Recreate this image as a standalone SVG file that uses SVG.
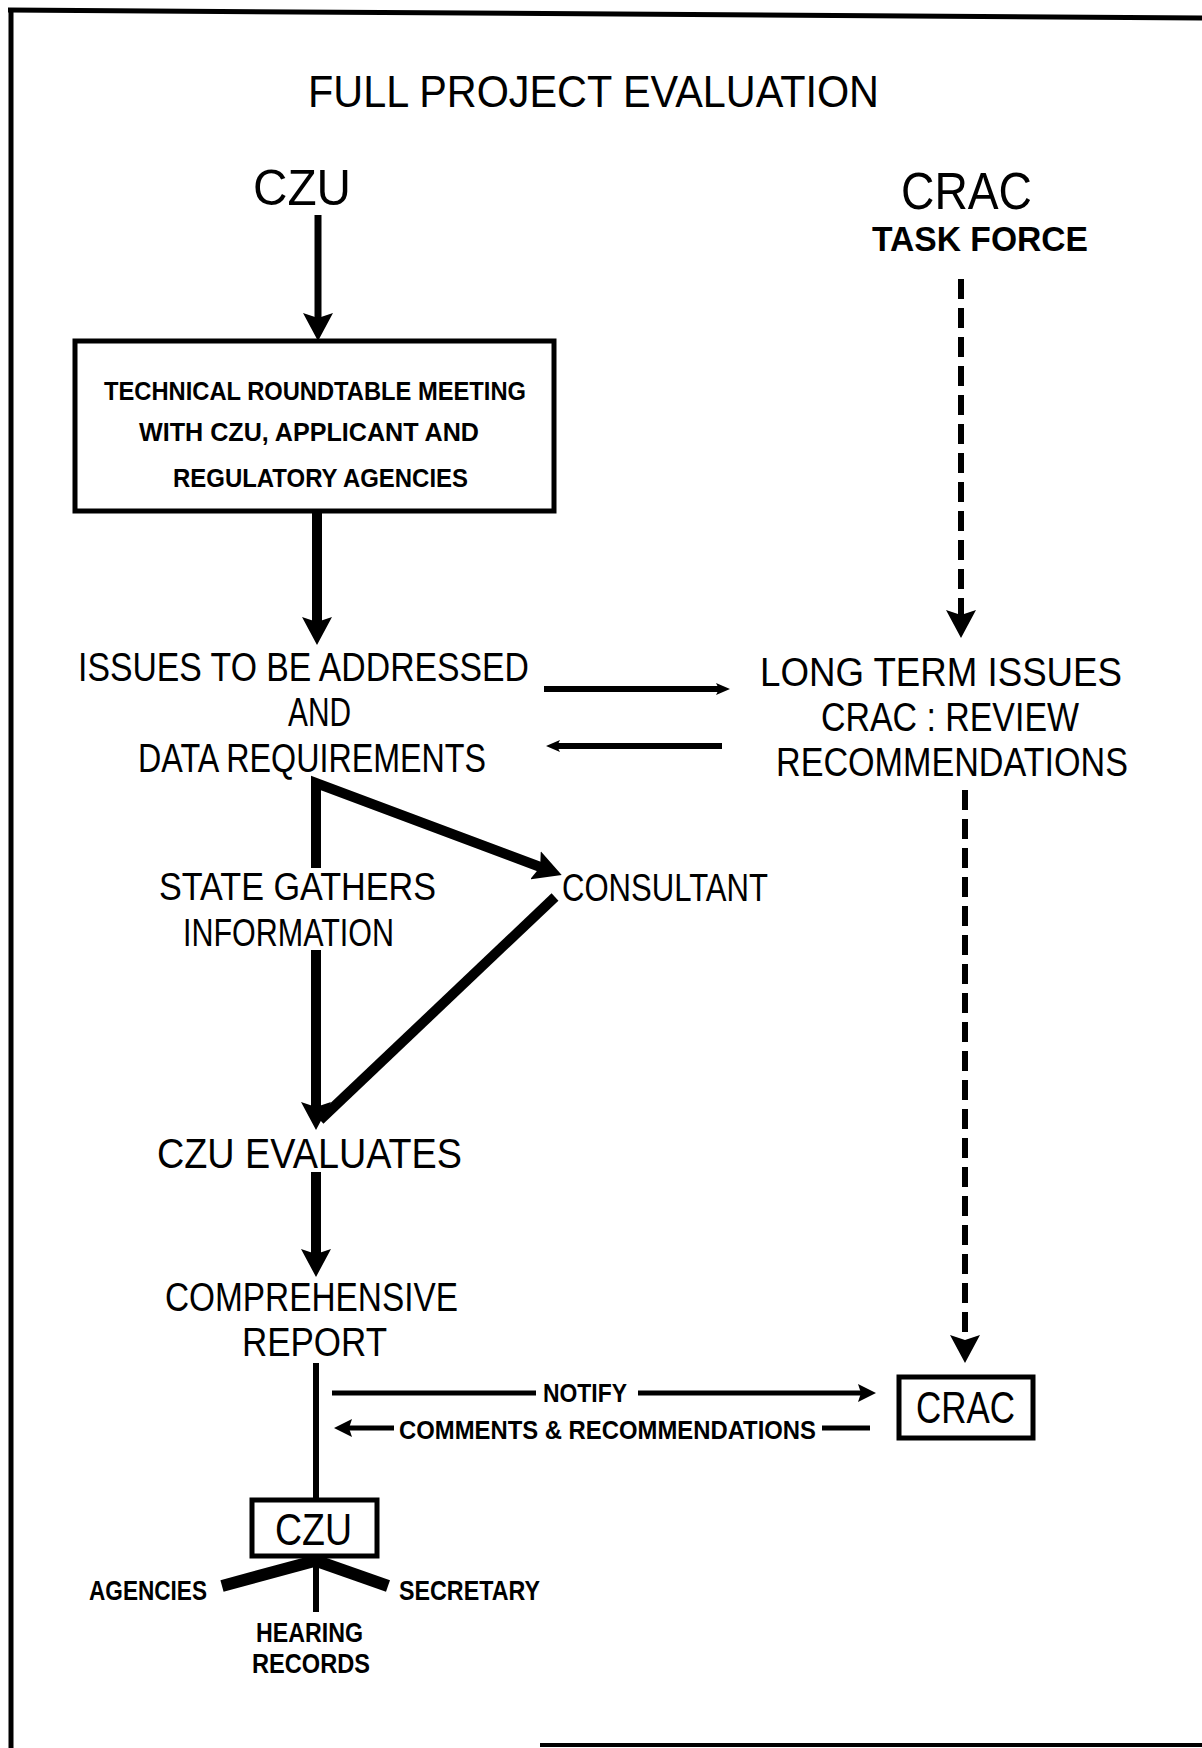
<svg xmlns="http://www.w3.org/2000/svg" width="1202" height="1748" viewBox="0 0 1202 1748">
<style>
.t{font-family:"Liberation Sans",Arial,sans-serif;fill:#000;}
.m{font-size:40px;}
.b{font-weight:bold;}
.box{fill:none;stroke:#000;stroke-width:5;}
.ln{stroke:#000;fill:none;stroke-linecap:butt;}
.dash{stroke:#000;fill:none;stroke-width:6;stroke-dasharray:20 9;}
</style>
<defs>
<marker id="big" markerUnits="userSpaceOnUse" viewBox="0 0 28 30" markerWidth="28" markerHeight="30" refX="8" refY="15" orient="auto"><path d="M0,0 L28,15 L0,30 L5,15 Z" fill="#000"/></marker>
<marker id="mid" markerUnits="userSpaceOnUse" viewBox="0 0 18 18" markerWidth="18" markerHeight="18" refX="6" refY="9" orient="auto"><path d="M0,0 L18,9 L0,18 L3,9 Z" fill="#000"/></marker>
<marker id="small" markerUnits="userSpaceOnUse" viewBox="0 0 14 14" markerWidth="14" markerHeight="14" refX="4" refY="7" orient="auto"><path d="M0,1 L14,7 L0,13 L3,7 Z" fill="#000"/></marker>
</defs>
<rect width="1202" height="1748" fill="#fff"/>
<g id="frame">
<line x1="11" y1="8" x2="11" y2="1748" class="ln" stroke-width="5"/>
<line x1="8" y1="10" x2="1202" y2="18" class="ln" stroke-width="5"/>
<line x1="540" y1="1745" x2="1202" y2="1745" class="ln" stroke-width="4"/>
</g>
<g id="title"><text class="t" x="308" y="107" font-size="44" textLength="571" lengthAdjust="spacingAndGlyphs">FULL PROJECT EVALUATION</text></g>
<g id="czu-top"><text class="t" x="253" y="205" font-size="50" textLength="98" lengthAdjust="spacingAndGlyphs">CZU</text></g>
<g id="crac-taskforce">
<text class="t" x="901" y="209" font-size="51" textLength="131" lengthAdjust="spacingAndGlyphs">CRAC</text>
<text class="t b" x="872" y="251" font-size="35" textLength="216" lengthAdjust="spacingAndGlyphs">TASK FORCE</text>
</g>
<g id="roundtable">
<rect class="box" x="75" y="341" width="479" height="170"/>
<text class="t b" x="104" y="400" font-size="26" textLength="422" lengthAdjust="spacingAndGlyphs">TECHNICAL ROUNDTABLE MEETING</text>
<text class="t b" x="139" y="441" font-size="26" textLength="340" lengthAdjust="spacingAndGlyphs">WITH CZU, APPLICANT AND</text>
<text class="t b" x="173" y="487" font-size="26" textLength="295" lengthAdjust="spacingAndGlyphs">REGULATORY AGENCIES</text>
</g>
<g id="issues">
<text class="t m" x="78" y="681" textLength="451" lengthAdjust="spacingAndGlyphs">ISSUES TO BE ADDRESSED</text>
<text class="t m" x="288" y="726" textLength="63" lengthAdjust="spacingAndGlyphs">AND</text>
<text class="t m" x="138" y="772" textLength="348" lengthAdjust="spacingAndGlyphs">DATA REQUIREMENTS</text>
</g>
<g id="longterm">
<text class="t m" x="760" y="686" textLength="362" lengthAdjust="spacingAndGlyphs">LONG TERM ISSUES</text>
<text class="t m" x="821" y="731" textLength="258" lengthAdjust="spacingAndGlyphs">CRAC : REVIEW</text>
<text class="t m" x="776" y="776" textLength="352" lengthAdjust="spacingAndGlyphs">RECOMMENDATIONS</text>
</g>
<g id="state">
<text class="t" x="159" y="900" font-size="39" textLength="277" lengthAdjust="spacingAndGlyphs">STATE GATHERS</text>
<text class="t" x="183" y="946" font-size="39" textLength="211" lengthAdjust="spacingAndGlyphs">INFORMATION</text>
</g>
<g id="consultant"><text class="t" x="562" y="901" font-size="39" textLength="206" lengthAdjust="spacingAndGlyphs">CONSULTANT</text></g>
<g id="evaluates"><text class="t" x="157" y="1168" font-size="42" textLength="305" lengthAdjust="spacingAndGlyphs">CZU EVALUATES</text></g>
<g id="report">
<text class="t m" x="165" y="1311" textLength="293" lengthAdjust="spacingAndGlyphs">COMPREHENSIVE</text>
<text class="t m" x="242" y="1356" textLength="145" lengthAdjust="spacingAndGlyphs">REPORT</text>
</g>
<g id="crac-box">
<rect class="box" x="899" y="1377" width="134" height="61"/>
<text class="t" x="916" y="1423" font-size="44" textLength="99" lengthAdjust="spacingAndGlyphs">CRAC</text>
</g>
<g id="czu-box">
<rect class="box" x="252" y="1500" width="125" height="56"/>
<text class="t" x="275" y="1545" font-size="44" textLength="77" lengthAdjust="spacingAndGlyphs">CZU</text>
</g>
<g id="agencies"><text class="t b" x="89" y="1600" font-size="28" textLength="118" lengthAdjust="spacingAndGlyphs">AGENCIES</text></g>
<g id="secretary"><text class="t b" x="399" y="1600" font-size="28" textLength="141" lengthAdjust="spacingAndGlyphs">SECRETARY</text></g>
<g id="hearing">
<text class="t b" x="256" y="1642" font-size="27" textLength="107" lengthAdjust="spacingAndGlyphs">HEARING</text>
<text class="t b" x="252" y="1673" font-size="27" textLength="118" lengthAdjust="spacingAndGlyphs">RECORDS</text>
</g>
<g id="connectors">
<line class="ln" x1="318" y1="215" x2="318" y2="321" stroke-width="7" marker-end="url(#big)"/>
<line class="ln" x1="317" y1="511" x2="317" y2="625" stroke-width="10" marker-end="url(#big)"/>
<line class="ln" x1="544" y1="689" x2="720" y2="689" stroke-width="6" marker-end="url(#small)"/>
<line class="ln" x1="722" y1="746" x2="556" y2="746" stroke-width="6" marker-end="url(#small)"/>
<line class="dash" x1="961" y1="279" x2="961" y2="618" marker-end="url(#big)"/>
<path class="ln" d="M316,868 L316,783 L543,868" stroke-width="10" stroke-linejoin="miter" marker-end="url(#big)"/>
<line class="ln" x1="316" y1="950" x2="316" y2="1110" stroke-width="10" marker-end="url(#big)"/>
<line class="ln" x1="555" y1="897" x2="320" y2="1120" stroke-width="10"/>
<line class="ln" x1="316" y1="1172" x2="316" y2="1257" stroke-width="10" marker-end="url(#big)"/>
<line class="dash" x1="965" y1="790" x2="965" y2="1343" marker-end="url(#big)"/>
<line class="ln" x1="316" y1="1363" x2="316" y2="1500" stroke-width="6"/>
<line class="ln" x1="332" y1="1393" x2="536" y2="1393" stroke-width="5"/>
<line class="ln" x1="638" y1="1393" x2="864" y2="1393" stroke-width="5" marker-end="url(#mid)"/>
<line class="ln" x1="870" y1="1428" x2="822" y2="1428" stroke-width="5"/>
<line class="ln" x1="394" y1="1428" x2="346" y2="1428" stroke-width="5" marker-end="url(#mid)"/>
<line class="ln" x1="318" y1="1560" x2="222" y2="1586" stroke-width="12"/>
<line class="ln" x1="314" y1="1560" x2="388" y2="1586" stroke-width="12"/>
<line class="ln" x1="316" y1="1556" x2="316" y2="1612" stroke-width="6"/>
</g>
<g id="labels">
<text class="t b" x="543" y="1402" font-size="26" textLength="84" lengthAdjust="spacingAndGlyphs">NOTIFY</text>
<text class="t b" x="399" y="1439" font-size="26" textLength="417" lengthAdjust="spacingAndGlyphs">COMMENTS &amp; RECOMMENDATIONS</text>
</g>
</svg>
